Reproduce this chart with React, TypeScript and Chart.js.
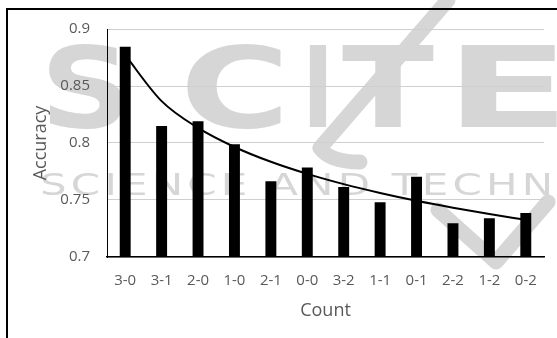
import React, { useEffect, useRef } from "react";
import { Chart, registerables } from "chart.js";

Chart.register(...registerables);

const categories = ["3-0", "3-1", "2-0", "1-0", "2-1", "0-0", "3-2", "1-1", "0-1", "2-2", "1-2", "0-2"];
const accuracy = [0.8845, 0.815, 0.819, 0.799, 0.7665, 0.7785, 0.7615, 0.748, 0.7705, 0.7295, 0.734, 0.7385];
const trendline = [0.877, 0.8367, 0.8132, 0.7965, 0.7835, 0.7729, 0.7639, 0.7562, 0.7493, 0.7432, 0.7377, 0.7326];
const yTicks = [0.7, 0.75, 0.8, 0.85, 0.9];
const yTitle = "Accuracy";
const xTitle = "Count";
const watermarkBig = ["S", "C", "I", "T", "E"];
const watermarkSmall = "SCIENCE AND TECHNOLOGY";

const FONT = "'Open Sans', 'DejaVu Sans', sans-serif";
const TEXT_COLOR = "#595959";
const WM = "#d6d6d6";

const decorPlugin = {
  id: "decor",
  beforeDraw(chart: any) {
    const ctx = chart.ctx as CanvasRenderingContext2D;
    ctx.save();
    ctx.fillStyle = "#fff";
    ctx.fillRect(0, 0, chart.width, chart.height);
    ctx.fillStyle = WM;
    ctx.strokeStyle = WM;
    ctx.textBaseline = "alphabetic";
    ctx.font = "bold 112px 'DejaVu Sans', sans-serif";
    const boxes = [
      [40, 92],
      [180, 110],
      [302, 32],
      [342, 92],
      [445, 125],
    ];
    watermarkBig.forEach((ch, i) => {
      const w = ctx.measureText(ch).width;
      const [bx, bw] = boxes[i];
      ctx.save();
      ctx.translate(bx, 127);
      ctx.scale(bw / w, 1);
      ctx.fillText(ch, 0, 0);
      ctx.restore();
    });
    ctx.save();
    ctx.font = "30px 'DejaVu Sans', sans-serif";
    (ctx as any).letterSpacing = "3px";
    ctx.translate(40, 195);
    ctx.scale(1.4, 1);
    ctx.fillText(watermarkSmall, 0, 0);
    ctx.restore();
    ctx.lineWidth = 15;
    ctx.lineCap = "round";
    ctx.lineJoin = "round";
    ctx.beginPath();
    ctx.moveTo(448, 0);
    ctx.lineTo(320, 148);
    ctx.quadraticCurveTo(330, 162, 360, 162);
    ctx.stroke();
    ctx.beginPath();
    ctx.moveTo(438, 210);
    ctx.lineTo(496, 262);
    ctx.lineTo(548, 202);
    ctx.stroke();
    ctx.restore();
  },
  afterDraw(chart: any) {
    const ctx = chart.ctx;
    ctx.save();
    ctx.strokeStyle = "#000";
    ctx.lineWidth = 2;
    ctx.beginPath();
    ctx.moveTo(7, 400);
    ctx.lineTo(7, 9);
    ctx.lineTo(700, 9);
    ctx.stroke();
    ctx.restore();
  },
};

export default function App() {
  const ref = useRef<HTMLCanvasElement | null>(null);
  useEffect(() => {
    if (!ref.current) return;
    const chart = new Chart(ref.current, {
      type: "bar",
      data: {
        labels: categories,
        datasets: [
          {
            type: "line",
            data: trendline,
            borderColor: "#000",
            borderWidth: 2,
            pointRadius: 0,
            cubicInterpolationMode: "monotone",
            order: 0,
          } as any,
          {
            type: "bar",
            data: accuracy,
            backgroundColor: "#000",
            barPercentage: 0.3,
            categoryPercentage: 1,
            order: 1,
          },
        ],
      },
      options: {
        responsive: false,
        animation: false,
        events: [],
        layout: { padding: { top: 29, right: 13, left: 0, bottom: 0 } },
        plugins: { legend: { display: false }, tooltip: { enabled: false } },
        scales: {
          x: {
            afterFit: (s: any) => {
              s.height = 81;
            },
            grid: { display: false },
            border: { display: true, color: "#000", width: 1.5 },
            ticks: { color: TEXT_COLOR, font: { family: FONT, size: 15 }, padding: 7, maxRotation: 0, autoSkip: false },
            title: {
              display: true,
              text: xTitle,
              color: TEXT_COLOR,
              font: { family: FONT, size: 18 },
              padding: { top: 0, bottom: 16 },
            },
          },
          y: {
            min: 0.7,
            max: 0.9,
            afterFit: (s: any) => {
              s.width = 107;
            },
            afterBuildTicks: (s: any) => {
              s.ticks = yTicks.map((v) => ({ value: v }));
            },
            grid: { color: "#cfcfcf", lineWidth: 1, drawTicks: false },
            border: { display: true, color: "#000", width: 1 },
            ticks: {
              color: TEXT_COLOR,
              font: { family: FONT, size: 15 },
              padding: 17,
              callback: (v: any) => String(+Number(v).toFixed(2)),
            },
            title: {
              display: true,
              text: yTitle,
              color: TEXT_COLOR,
              font: { family: FONT, size: 18 },
              padding: { top: 30, bottom: 0 },
            },
          },
        },
      },
      plugins: [decorPlugin],
    });
    return () => chart.destroy();
  }, []);
  return (
    <div style={{ position: "absolute", left: 0, top: 0, width: 557, height: 338, background: "#fff" }}>
      <canvas ref={ref} width={557} height={338} style={{ display: "block" }} />
    </div>
  );
}
